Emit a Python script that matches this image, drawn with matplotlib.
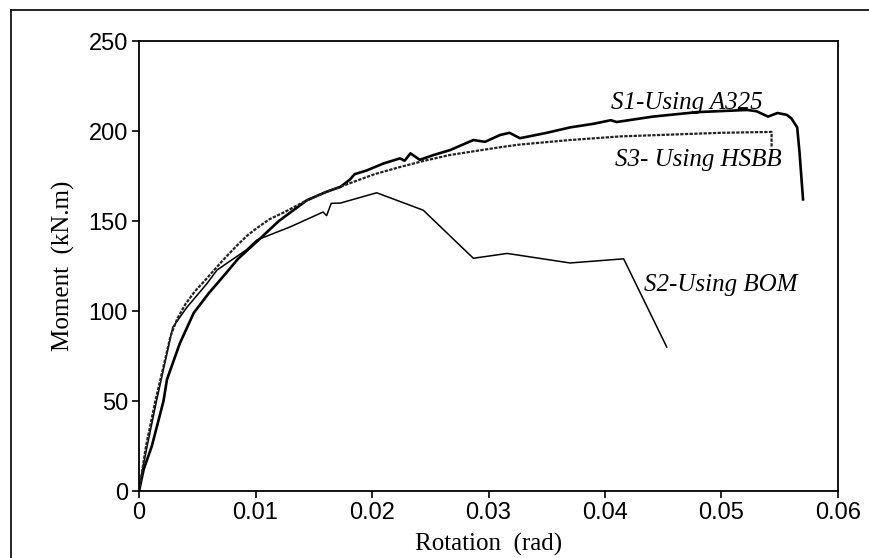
import matplotlib.pyplot as plt
from matplotlib.lines import Line2D

# Moment-rotation curves for the three connection specimens
rot_s1 = [0, 0.0004, 0.0011, 0.0021, 0.0024, 0.0035, 0.0047, 0.006, 0.0072, 0.0085,
          0.0101, 0.012, 0.0144, 0.016, 0.0173, 0.0181, 0.0185, 0.0195, 0.021, 0.0224,
          0.0228, 0.0233, 0.0241, 0.0253, 0.0267, 0.0287, 0.0297, 0.031, 0.0318, 0.0327,
          0.035, 0.037, 0.039, 0.0405, 0.041, 0.0441, 0.0479, 0.0522, 0.053, 0.054,
          0.0548, 0.0556, 0.056, 0.0565, 0.0567, 0.057]
mom_s1 = [0, 12, 25, 50, 62, 82, 99, 110, 119, 129,
          138.5, 150, 161.5, 166, 169, 173, 176, 178, 182, 184.8,
          183.5, 187.6, 184, 186.7, 189.4, 195, 194, 197.8, 199, 196,
          199, 202, 204, 206, 205, 208, 210.5, 211.7, 211, 208,
          210, 209, 207, 202, 188, 162]

rot_s2 = [0, 0.0003, 0.0007, 0.0015, 0.0029, 0.0041, 0.0058, 0.0067, 0.0092, 0.0101,
          0.013, 0.0158, 0.0161, 0.0165, 0.0173, 0.0204, 0.0244, 0.0287, 0.0316, 0.037,
          0.0416, 0.0453]
mom_s2 = [0, 12, 25, 50, 91, 102, 115, 122.8, 133.9, 139.4,
          146.8, 155, 153, 159.8, 160, 165.7, 156, 129.3, 132, 126.7,
          129, 80]

rot_s3 = [0, 0.0006, 0.0014, 0.0022, 0.0027, 0.0033, 0.004, 0.0048, 0.0058, 0.0067,
          0.0076, 0.0085, 0.0093, 0.0101, 0.0112, 0.0125, 0.0144, 0.0162, 0.0181, 0.0202,
          0.0224, 0.0245, 0.0267, 0.029, 0.031, 0.0327, 0.037, 0.0413, 0.0456, 0.0499,
          0.0543, 0.0543]
mom_s3 = [0, 25, 50, 72, 86, 96, 104, 111, 118, 124.6,
          131, 137, 142, 146, 151, 155, 161.5, 166.5, 171, 176,
          180, 183.5, 186.7, 189, 191, 192.5, 195, 197, 198, 199,
          199.5, 191]

fig = plt.figure(figsize=(8.7, 5.58), dpi=100)
ax = fig.add_axes([0.1598, 0.12, 0.8034, 0.8065])

ax.plot(rot_s1, mom_s1, color='black', lw=1.9)
ax.plot(rot_s2, mom_s2, color='black', lw=1.1)
ax.plot(rot_s3, mom_s3, color='#222222', lw=1.6, linestyle=(0, (1.5, 0.6)))

serif = 'Liberation Serif'
ax.text(0.047, 215.5, 'S1-Using A325', family=serif, style='italic', fontsize=18,
        ha='center', va='center')
ax.text(0.048, 184, 'S3- Using HSBB', family=serif, style='italic', fontsize=18,
        ha='center', va='center')
ax.text(0.0499, 114.4, 'S2-Using BOM', family=serif, style='italic', fontsize=18,
        ha='center', va='center')

ax.set_xlim(0, 0.06)
ax.set_ylim(0, 250)
ax.set_xticks([0, 0.01, 0.02, 0.03, 0.04, 0.05, 0.06])
ax.set_xticklabels(['0', '0.01', '0.02', '0.03', '0.04', '0.05', '0.06'])
ax.set_yticks([0, 50, 100, 150, 200, 250])
ax.tick_params(direction='out', length=5, width=1.2, pad=3, labelsize=17)
for lab in ax.get_xticklabels() + ax.get_yticklabels():
    lab.set_family('Liberation Sans')
for sp in ax.spines.values():
    sp.set_linewidth(1.3)

ax.set_xlabel('Rotation  (rad)', family=serif, fontsize=18, labelpad=6)
ax.set_ylabel('Moment  (kN.m)', family=serif, fontsize=18, labelpad=10)

# thin frame around the figure
fig.add_artist(Line2D([11 / 870, 11 / 870], [0, 1 - 10 / 558], color='black', lw=1.2))
fig.add_artist(Line2D([11 / 870, 1], [1 - 10 / 558, 1 - 10 / 558], color='black', lw=1.2))

fig.savefig('out.png', dpi=100)
